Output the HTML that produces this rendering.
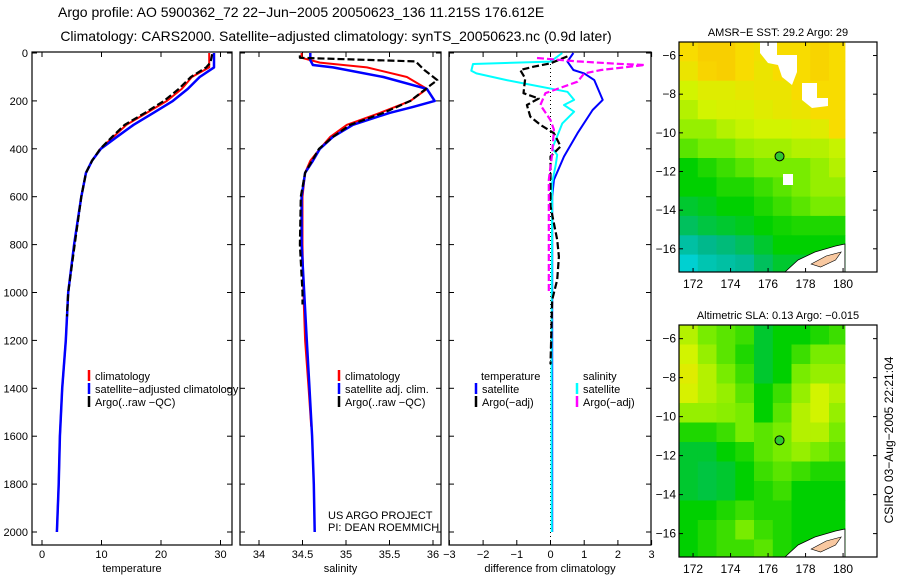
<!DOCTYPE html>
<html><head><meta charset="utf-8"><style>
html,body{margin:0;padding:0;background:#fff;}
svg{display:block;font-family:"Liberation Sans",sans-serif;}
</style></head><body>
<svg id="fig" width="900" height="580" viewBox="0 0 900 580">
<text x="58" y="17" font-size="14">Argo profile: AO 5900362_72 22−Jun−2005 20050623_136 11.215S 176.612E</text>
<text x="336" y="41" font-size="14" text-anchor="middle">Climatology: CARS2000. Satellite−adjusted climatology: synTS_20050623.nc (0.9d later)</text>
<text transform="translate(893,440) rotate(-90)" font-size="12" text-anchor="middle">CSIRO 03−Aug−2005 22:21:04</text>
</svg>
<script>
// ---------- data ----------
const depthTicks=[0,200,400,600,800,1000,1200,1400,1600,1800,2000];
const tempTicks=[0,10,20,30];
const salTicks=[34,34.5,35,35.5,36];
const salTickLabels=["34","34.5","35","35.5","36"];
const diffTicks=[-3,-2,-1,0,1,2,3];
const diffTickLabels=["−3","−2","−1","0","1","2","3"];

const tClimDepth=[0,60,100,150,200,250,300,350,400,450,500,600,800,1000,1200,1400,1600,1800,2000];
const tClimVal=[28.1,28.1,25.2,23.5,21,17.6,14.2,12,9.8,8.4,7.4,6.6,5.4,4.4,4.0,3.4,3.0,2.8,2.5];
const tSatDepth=[0,60,100,150,200,250,300,350,400,450,500,600,800,1000,1200,1400,1600,1800,2000];
const tSatVal=[28.9,28.9,26.5,24.5,22,18.7,15.4,12.6,9.9,8.4,7.4,6.6,5.4,4.4,4.0,3.4,3.0,2.8,2.5];
const tArgoDepth=[5,40,60,100,150,200,250,300,350,400,450,500,600,800,1000,1100];
const tArgoVal=[28.6,28.3,27.6,25,23,20.5,17.3,13.9,11.8,9.8,8.4,7.4,6.6,5.5,4.4,4.2];

const sClimDepth=[0,20,40,60,100,150,200,250,300,350,400,450,500,600,800,1000,1200,1400,1560];
const sClimVal=[34.49,34.49,34.7,35.24,35.7,35.93,35.74,35.39,35.01,34.82,34.7,34.59,34.53,34.5,34.5,34.51,34.53,34.57,34.6];
const sSatDepth=[0,30,50,60,100,150,200,225,250,300,350,400,450,500,600,800,1000,1200,1400,1600,1800,2000];
const sSatVal=[34.59,34.59,34.62,34.85,35.43,35.93,36.02,35.77,35.5,35.08,34.85,34.7,34.62,34.53,34.49,34.49,34.52,34.55,34.58,34.61,34.63,34.64];
const sArgoDepth=[10,20,35,71,113,135,200,250,300,350,400,500,600,800,1000,1050];
const sArgoVal=[34.47,34.47,35.8,35.9,36.05,35.97,35.74,35.43,35.05,34.85,34.69,34.53,34.48,34.47,34.5,34.5];

const dTSatDepth=[0,36,71,85,113,196,238,335,432,530,600,1000,1500,2000];
const dTSatVal=[0.68,0.5,0.68,1.0,1.3,1.55,1.25,0.8,0.4,0.1,0.05,0.05,0.05,0.05];
const dSSatDepth=[0,36,46,74,85,113,127,162,196,217,245,294,364,398,425,470,540,1000,1500,2000];
const dSSatVal=[0.35,0,-2.3,-2.35,-2.2,-1.3,-0.8,0.5,0.7,0.4,0.7,0.35,0.15,0.05,0.2,0.15,0.05,0.04,0.03,0.04];
const dTArgoDepth=[14,43,57,71,106,168,190,217,266,300,335,390,432,500,640,780,850,947,1030,1300];
const dTArgoVal=[0.5,0,-0.5,-0.9,-0.75,-0.8,-0.35,-0.7,-0.6,-0.3,0.1,0.3,0,0,0,0.2,0.25,0.2,0.05,0];
const dSArgoDepth=[21,35,45,50,71,85,120,168,217,280,320,420,530,700,850,1000];
const dSArgoVal=[-0.4,0.8,2.0,2.8,1.5,1.0,0.8,-0.15,-0.3,0,0.1,0.05,-0.05,-0.05,-0.05,-0.05];

// maps: rows from north (-5.3) southward, 1 deg cells, columns from 171.25 east
const sstGrid=[
[.85,.9,.9,.85,.82,.85,.85,.88,.85],
[.8,.88,.9,.85,.8,.85,.85,.88,.85],
[.7,.75,.75,.78,.8,.8,.85,.85,.85],
[.65,.7,.72,.72,.75,.78,.8,.85,.85],
[.6,.6,.65,.68,.7,.7,.72,.75,.85],
[.5,.55,.55,.6,.62,.62,.65,.65,.68],
[.35,.4,.45,.5,.55,.55,.55,.6,.65],
[.35,.35,.4,.4,.45,.5,.55,.6,.6],
[.3,.32,.35,.35,.4,.45,.5,.55,.55],
[.25,.28,.3,.32,.35,.38,.4,.4,.4],
[.15,.2,.22,.25,.3,.35,.35,.35,.35],
[.05,.12,.15,.18,.25,.3,.3,.3,.3]];
const slaGrid=[
[.65,.55,.5,.45,.3,.35,.35,.4,.45],
[.7,.6,.5,.4,.3,.35,.45,.55,.55],
[.75,.65,.55,.45,.3,.35,.55,.6,.6],
[.72,.65,.6,.5,.35,.45,.6,.7,.65],
[.6,.6,.58,.55,.35,.5,.65,.7,.6],
[.4,.4,.45,.55,.5,.55,.65,.65,.55],
[.3,.3,.35,.4,.5,.55,.6,.55,.5],
[.3,.28,.3,.35,.45,.5,.45,.4,.4],
[.3,.28,.3,.35,.4,.45,.35,.35,.35],
[.35,.35,.4,.45,.4,.4,.35,.35,.35],
[.35,.4,.45,.55,.45,.4,.35,.35,.35],
[.35,.4,.45,.45,.5,.4,.35,.35,.35]];
const lonTicks=[172,174,176,178,180];
const latTicks=[-6,-8,-10,-12,-14,-16];
const argoLon=176.612, argoLat=-11.215;

// ---------- drawing ----------
const NS="http://www.w3.org/2000/svg";
const svg=document.getElementById('fig');
function mk(tag,attrs,parent){const e=document.createElementNS(NS,tag);for(const k in attrs)e.setAttribute(k,attrs[k]);(parent||svg).appendChild(e);return e;}
const Y0=53, YS=479/2000, PT=52, PB=545;
const yD=d=>Y0+d*YS;

function panel(name,x0,x1,xf,ticks,labels,xlabel,showY){
  const g=mk('g',{});
  
  
  const r=mk('rect',{x:x0,y:PT,width:x1-x0,height:PB-PT,fill:'none',stroke:'#000','stroke-width':1.2},g);
  
  
  ticks.forEach((t,i)=>{const x=xf(t);
    mk('line',{x1:x,x2:x,y1:PT,y2:PT+5,stroke:'#000'},g);
    mk('line',{x1:x,x2:x,y1:PB,y2:PB-5,stroke:'#000'},g);
    const tx=mk('text',{x:x,y:PB+13,'font-size':11,'text-anchor':'middle'},g);tx.textContent=labels[i];
    
    
  });
  depthTicks.forEach(d=>{const y=yD(d);
    mk('line',{x1:x0,x2:x0+5,y1:y,y2:y,stroke:'#000'},g);
    mk('line',{x1:x1,x2:x1-5,y1:y,y2:y,stroke:'#000'},g);
    if(showY){const tx=mk('text',{x:x0-4,y:y+4,'font-size':11,'text-anchor':'end'},g);tx.textContent=d;
      
      }
  });
  const xl=mk('text',{x:(x0+x1)/2,y:PB+27,'font-size':11,'text-anchor':'middle'},g);xl.textContent=xlabel;
  
  
  return g;
}
function series(name,depths,vals,xf,color,dash,w,lo,hi){
  const pts=depths.map((d,i)=>Math.max(lo,Math.min(hi,xf(vals[i]))).toFixed(1)+','+yD(d).toFixed(1)).join(' ');
  const p=mk('polyline',{points:pts,fill:'none',stroke:color,'stroke-width':w||2,'stroke-dasharray':dash||'none','stroke-linejoin':'round'});
  
  
}
function legend(name,x,y,color,label){
  const g=mk('g',{});
  
  
  mk('line',{x1:x,x2:x,y1:y-10,y2:y+1,stroke:color,'stroke-width':2.5},g);
  const t=mk('text',{x:x+6,y:y,'font-size':11},g);t.textContent=label;
}
function txt(name,x,y,s,size,anchor){const t=mk('text',{x:x,y:y,'font-size':size||11,'text-anchor':anchor||'start'});t.textContent=s;
  
  return t;}

// panel 1 temperature
const xT=t=>42+5.95*t;
panel('temperature-panel',32,232,xT,tempTicks,tempTicks.map(String),'temperature',true);
series('temp-climatology-line',tClimDepth,tClimVal,xT,'#ff0000',null,2,32,232);
series('temp-satellite-line',tSatDepth,tSatVal,xT,'#0000ff',null,2.5,32,232);
series('temp-argo-line',tArgoDepth,tArgoVal,xT,'#000',"7 3",2.2,32,232);
legend('legend-climatology',89,380,'#ff0000','climatology');
legend('legend-satellite-adjusted',89,393,'#0000ff','satellite−adjusted climatology');
legend('legend-argo',89,406,'#000','Argo(..raw −QC)');

// panel 2 salinity
const xS=s=>259+87*(s-34);
panel('salinity-panel',240,441,xS,salTicks,salTickLabels,'salinity',false);
series('sal-climatology-line',sClimDepth,sClimVal,xS,'#ff0000',null,2,240,441);
series('sal-satellite-line',sSatDepth,sSatVal,xS,'#0000ff',null,2.5,240,441);
series('sal-argo-line',sArgoDepth,sArgoVal,xS,'#000',"7 3",2.2,240,441);
legend('legend-sal-climatology',339,380,'#ff0000','climatology');
legend('legend-sal-satellite',339,393,'#0000ff','satellite adj. clim.');
legend('legend-sal-argo',339,406,'#000','Argo(..raw −QC)');
txt('project-label',328,519,'US ARGO PROJECT',11);
txt('pi-label',328,531,'PI: DEAN ROEMMICH',11);

// panel 3 difference
const xDf=d=>550.5+33.7*d;
panel('difference-panel',449,651,xDf,diffTicks,diffTickLabels,'difference from climatology',false);
mk('line',{x1:xDf(0),x2:xDf(0),y1:PT,y2:PB,stroke:'#000','stroke-dasharray':'1 3'});
series('diff-temp-satellite-line',dTSatDepth,dTSatVal,xDf,'#0000ff',null,2,449,651);
series('diff-sal-satellite-line',dSSatDepth,dSSatVal,xDf,'#00ffff',null,2,449,651);
series('diff-temp-argo-line',dTArgoDepth,dTArgoVal,xDf,'#000',"7 3",2.2,449,651);
series('diff-sal-argo-line',dSArgoDepth,dSArgoVal,xDf,'#ff00ff',"7 3",2.2,449,651);
txt('legend-temperature-header',481,380,'temperature',11);
legend('legend-diff-temp-satellite',476,393,'#0000ff','satellite');
legend('legend-diff-temp-argo',476,406,'#000','Argo(−adj)');
txt('legend-salinity-header',583,380,'salinity',11);
legend('legend-diff-sal-satellite',577,393,'#00ffff','satellite');
legend('legend-diff-sal-argo',577,406,'#ff00ff','Argo(−adj)');

// colour scale
const stops=[[0,[0,216,232]],[0.2,[0,184,140]],[0.35,[0,208,0]],[0.55,[120,236,0]],[0.7,[210,244,0]],[0.85,[248,220,0]],[1,[248,180,0]]];
function col(v){for(let i=1;i<stops.length;i++){if(v<=stops[i][0]){const a=stops[i-1],b=stops[i],f=(v-a[0])/(b[0]-a[0]);
  const c=a[1].map((x,k)=>Math.round(x+(b[1][k]-x)*f));return 'rgb('+c.join(',')+')';}}return 'rgb(248,180,0)';}

function mapPanel(name,top,bot,grid,title,missing){
  const L=679,R=877,lon0=171.25,lat0=-5.3;
  const pxLon=18.75;
  const lat6 = top+(-5.3+6)*0; // placeholder
  const pxLat=(bot-top)/11.9;
  const xL=lo=>L+(lo-lon0)*pxLon, yL=la=>top+(lat0-la)*pxLat;
  const g=mk('g',{});
  
  
  grid.forEach((row,r)=>row.forEach((v,c)=>{
    const x=xL(lon0+c), y=yL(lat0-r);
    const w=Math.min(xL(lon0+c+1),xL(180.1))-x, h=Math.min(yL(lat0-r-1),bot)-y;
    const cell=mk('rect',{x:x.toFixed(1),y:y.toFixed(1),width:(w+0.5).toFixed(1),height:(h+0.5).toFixed(1),fill:col(v)},g);
    
    
  }));
  if(missing){
    mk('polygon',{points:'760,42 777,42 777,55 797,55 797,72 792,85 782,77 778,65 768,63 760,53',fill:'#fff'},g);
    mk('polygon',{points:'802,83 817,83 817,98 828,98 828,106 812,108 802,100',fill:'#fff'},g);
    mk('rect',{x:783,y:174,width:10,height:11,fill:'#fff'},g);
  }
  // land / white region lower right
  mk('polygon',{points:`${xL(176.9)},${bot} ${xL(177.6)},${bot-12} ${xL(178.5)},${bot-20} ${xL(179.6)},${bot-26} ${xL(180.1)},${bot-28} ${xL(180.1)},${bot}`,fill:'#fff',stroke:'#000','stroke-width':0.8},g);
  mk('polygon',{points:`${xL(178.3)},${bot-8} ${xL(179.1)},${bot-16} ${xL(179.9)},${bot-20} ${xL(179.6)},${bot-12} ${xL(178.8)},${bot-5}`,fill:'#f8c8a0',stroke:'#000','stroke-width':0.6},g);
  const fr=mk('rect',{x:L,y:top,width:R-L,height:bot-top,fill:'none',stroke:'#000','stroke-width':1.2},g);
  lonTicks.forEach(lo=>{const x=xL(lo);mk('line',{x1:x,x2:x,y1:top,y2:top+4,stroke:'#000'},g);mk('line',{x1:x,x2:x,y1:bot,y2:bot-4,stroke:'#000'},g);
    const t=mk('text',{x:x,y:bot+16,'font-size':12,'text-anchor':'middle'},g);t.textContent=lo;
    
    });
  latTicks.forEach(la=>{const y=yL(la);mk('line',{x1:L,x2:L+4,y1:y,y2:y,stroke:'#000'},g);mk('line',{x1:R,x2:R-4,y1:y,y2:y,stroke:'#000'},g);
    const t=mk('text',{x:L-3,y:y+4,'font-size':12,'text-anchor':'end'},g);t.textContent='−'+(-la);
    
    });
  const c=mk('circle',{cx:xL(argoLon),cy:yL(argoLat),r:4.5,fill:'#30c830',stroke:'#000','stroke-width':1},g);
  
  
  const t=mk('text',{x:778,y:top-6,'font-size':11,'text-anchor':'middle'},g);t.textContent=title;
  
  
}
mapPanel('sst-map',42,272,sstGrid,'AMSR−E SST: 29.2 Argo: 29',true);
mapPanel('sla-map',325,557,slaGrid,'Altimetric SLA: 0.13 Argo: −0.015',false);
</script>
</body></html>
